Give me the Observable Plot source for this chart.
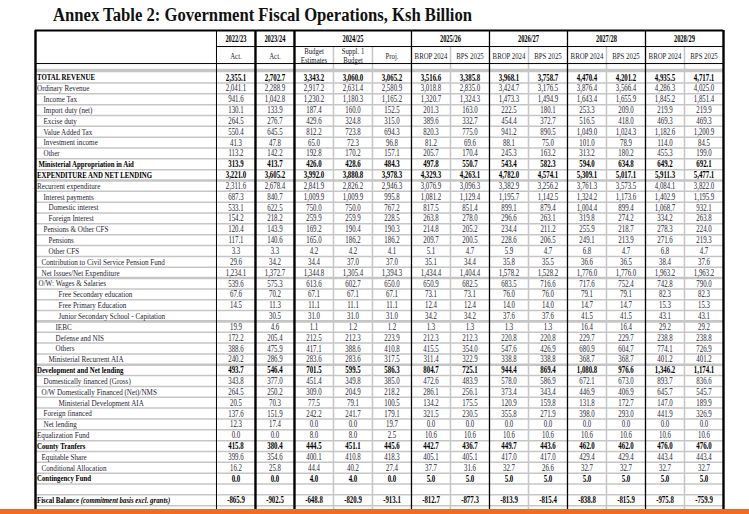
<!DOCTYPE html>
<html>
<head>
<meta charset="utf-8">
<script src="https://cdn.jsdelivr.net/npm/d3@7"></script>
<script src="https://cdn.jsdelivr.net/npm/@observablehq/plot@0.6"></script>
<style>
  html, body { margin: 0; padding: 0; background: #fff; }
  #page { position: relative; width: 749px; height: 514px; overflow: hidden; background: #fff; }
  #title { position: absolute; left: 53px; top: 6px; font-family: "Liberation Serif", "Times New Roman", serif;
           font-weight: bold; font-size: 18.5px; line-height: 18px; white-space: nowrap; color: #111;
           transform: scaleX(0.9); transform-origin: 0 0; }
  #chart { position: absolute; left: 0; top: 29px; }
  #band { position: absolute; left: 0; top: 509px; width: 749px; height: 5px; background: #f26b21; }
</style>
</head>
<body>
<div id="page">
  <div id="title">Annex Table 2: Government Fiscal Operations, Ksh Billion</div>
  <div id="chart"></div>
  <div id="band"></div>
</div>
<script>
// ---------- DATA ----------
const years = ["2022/23", "2023/24", "2024/25", "2025/26", "2026/27", "2027/28", "2028/29"];
const yearStart = [0, 1, 2, 5, 7, 9, 11];
const yearEnd   = [1, 2, 5, 7, 9, 11, 13];
const subHeaders = ["Act.", "Act.", "Budget\nEstimates", "Suppl. 1\nBudget", "Proj.",
  "BROP 2024", "BPS 2025", "BROP 2024", "BPS 2025", "BROP 2024", "BPS 2025", "BROP 2024", "BPS 2025"];

const labels = [
  "TOTAL REVENUE", "Ordinary Revenue", "Income Tax", "Import duty (net)", "Excise duty", "Value Added Tax",
  "Investment income", "Other", "Ministerial Appropriation in Aid", "EXPENDITURE AND NET LENDING",
  "Recurrent expenditure", "Interest payments", "Domestic interest", "Foreign Interest", "Pensions & Other CFS",
  "Pensions", "Other CFS", "Contribution to Civil Service Pension Fund", "Net Issues/Net Expenditure",
  "O/W: Wages & Salaries", "Free Secondary education", "Free Primary Education",
  "Junior Secondary School - Capitation", "IEBC", "Defense and NIS", "Others", "Ministerial Recurrent AIA",
  "Development and Net lending", "Domestically financed (Gross)", "O/W Domestically Financed (Net)/NMS",
  "Ministerial Development AIA", "Foreign financed", "Net lending", "Equalization Fund", "County Tranfers",
  "Equitable Share", "Conditional Allocation", "Contingency Fund", "",
  "Fiscal Balance (commitment basis excl. grants)", ""
];
// hierarchy level of each row label
const levels = [0,0,3,3,3,3,3,3,1,0, 0,3,4,4,3,4,4,2,2,1, 6,6,6,5,5,5,4,0,3,2, 6,3,3,0,0,2,2,0,0,0, 0];
// rows that are totals
const totalRows = [0, 8, 9, 27, 34, 37, 39];

const act2223  = [2355.1,2041.1,941.6,130.1,264.5,550.4,41.3,113.2,313.9,3221.0,2311.6,687.3,533.1,154.2,120.4,117.1,3.3,29.6,1234.1,539.6,67.6,14.5,null,19.9,172.2,388.6,240.2,493.7,343.8,264.5,20.5,137.6,12.3,0.0,415.8,399.6,16.2,0.0,null,-865.9,null];
const act2324  = [2702.7,2288.9,1042.8,133.9,276.7,645.5,47.8,142.2,413.7,3605.2,2678.4,840.7,622.5,218.2,143.9,140.6,3.3,34.2,1372.7,575.3,70.2,11.3,30.5,4.6,205.4,475.9,286.9,546.4,377.0,250.2,70.3,151.9,17.4,0.0,380.4,354.6,25.8,0.0,null,-902.5,null];
const bud2425  = [3343.2,2917.2,1230.2,187.4,429.6,812.2,65.0,192.8,426.0,3992.0,2841.9,1009.9,750.0,259.9,169.2,165.0,4.2,34.4,1344.8,613.6,67.1,11.1,31.0,1.1,212.5,417.1,283.6,701.5,451.4,309.0,77.5,242.2,0.0,8.0,444.5,400.1,44.4,4.0,null,-648.8,null];
const sup2425  = [3060.0,2631.4,1180.3,160.0,324.8,723.8,72.3,170.2,428.6,3880.8,2826.2,1009.9,750.0,259.9,190.4,186.2,4.2,37.0,1305.4,602.7,67.1,11.1,31.0,1.2,212.3,388.6,283.6,599.5,349.8,204.9,79.1,241.7,0.0,8.0,451.1,410.8,40.2,4.0,null,-820.9,null];
const proj2425 = [3065.2,2580.9,1165.2,152.5,315.0,694.3,96.8,157.1,484.3,3978.3,2946.3,995.8,767.2,228.5,190.3,186.2,4.1,37.0,1394.3,650.0,67.1,11.1,31.0,1.2,223.9,410.8,317.5,586.3,385.0,218.2,100.5,179.1,19.7,2.5,445.6,418.3,27.4,0.0,null,-913.1,null];
const brop2526 = [3516.6,3018.8,1320.7,201.3,389.6,820.3,81.2,205.7,497.8,4329.3,3076.9,1081.2,817.5,263.8,214.8,209.7,5.1,35.1,1434.4,650.9,73.1,12.4,34.2,1.3,212.3,415.5,311.4,804.7,472.6,286.1,134.2,321.5,0.0,10.6,442.7,405.1,37.7,5.0,null,-812.7,null];
const bps2526  = [3385.8,2835.0,1324.3,163.0,332.7,775.0,69.6,170.4,550.7,4263.1,3096.3,1129.4,851.4,278.0,205.2,200.5,4.7,34.4,1404.4,682.5,73.1,12.4,34.2,1.3,212.3,354.0,322.9,725.1,483.9,256.1,175.5,230.5,0.0,10.6,436.7,405.1,31.6,5.0,null,-877.3,null];
const brop2627 = [3968.1,3424.7,1473.3,222.5,454.4,941.2,88.1,245.3,543.4,4782.0,3382.9,1195.7,899.1,296.6,234.4,228.6,5.9,35.8,1578.2,683.5,76.0,14.0,37.6,1.3,220.8,547.6,338.8,944.4,578.0,373.4,120.9,355.8,0.0,10.6,449.7,417.0,32.7,5.0,null,-813.9,null];
const bps2627  = [3758.7,3176.5,1494.9,180.1,372.7,890.5,75.0,163.2,582.3,4574.1,3256.2,1142.5,879.4,263.1,211.2,206.5,4.7,35.5,1528.2,716.6,76.0,14.0,37.6,1.3,220.8,426.9,338.8,869.4,586.9,343.4,159.8,271.9,0.0,10.6,443.6,417.0,26.6,5.0,null,-815.4,null];
const brop2728 = [4470.4,3876.4,1643.4,253.3,516.5,1049.0,101.0,313.2,594.0,5309.1,3761.3,1324.2,1004.4,319.8,255.9,249.1,6.8,36.6,1776.0,717.6,79.1,14.7,41.5,16.4,229.7,680.9,368.7,1080.8,672.1,446.9,131.8,398.0,0.0,10.6,462.0,429.4,32.7,5.0,null,-838.8,null];
const bps2728  = [4201.2,3566.4,1655.9,209.0,418.0,1024.3,78.9,180.2,634.8,5017.1,3573.5,1173.6,899.4,274.2,218.7,213.9,4.7,36.5,1776.0,752.4,79.1,14.7,41.5,16.4,229.7,604.7,368.7,976.6,673.0,406.9,172.7,293.0,0.0,10.6,462.0,429.4,32.7,5.0,null,-815.9,null];
const brop2829 = [4935.5,4286.3,1845.2,219.9,469.3,1182.6,114.0,455.3,649.2,5911.3,4084.1,1402.9,1068.7,334.2,278.3,271.6,6.8,38.4,1963.2,742.8,82.3,15.3,43.1,29.2,238.8,774.1,401.2,1346.2,893.7,645.7,147.0,441.9,0.0,10.6,476.0,443.4,32.7,5.0,null,-975.8,null];
const bps2829  = [4717.1,4025.0,1851.4,219.9,469.3,1200.9,84.5,199.0,692.1,5477.1,3822.0,1195.9,932.1,263.8,224.0,219.3,4.7,37.6,1963.2,790.0,82.3,15.3,43.1,29.2,238.8,726.9,401.2,1174.1,836.6,545.7,189.9,326.9,0.0,10.6,476.0,443.4,32.7,5.0,null,-759.9,null];

const columns = [act2223, act2324, bud2425, sup2425, proj2425, brop2526, bps2526, brop2627, bps2627, brop2728, bps2728, brop2829, bps2829];

// ---------- LAYOUT ----------
const NCOLS = columns.length;
const NROWS = labels.length;
const LABEL_W = 4.64;       // label column width, in column units
const YTOP = -3.84, YSUB = -2.36, YBLANK = -0.79;   // header band edges, in row units
const indentPx = [1.5, 3, 6, 8, 13, 20, 23];
const FONT = '"Liberation Serif", "Times New Roman", serif';
const GRAY = "#c6c6c6";
const thickSep = [10, 19, 23, 27];

const fmt = d3.formatLocale({decimal: ".", thousands: ",", grouping: [3], currency: ["", ""], minus: "-"}).format(",.1f");

const cells = columns.flatMap((arr, c) => arr.map((v, r) => ({c, r, v}))).filter(d => d.v != null);
const isTotal = r => totalRows.includes(r);
const rowsData = labels.map((t, r) => ({t, r, lvl: levels[r]})).filter(d => d.t);

const labelMarks = [];
for (let lvl = 0; lvl < indentPx.length; lvl++) {
  for (const bold of [false, true]) {
    const sub = rowsData.filter(d => d.lvl === lvl && isTotal(d.r) === bold);
    if (!sub.length) continue;
    labelMarks.push(Plot.text(sub, {
      x: () => -LABEL_W, y: d => d.r + 0.5, text: "t", textAnchor: "start", dx: indentPx[lvl],
      fontSize: 9, fontWeight: bold ? "bold" : "normal", fill: bold ? "#000" : "#252532"
    }));
  }
}

const hdrYears = years.map((t, i) => ({t, x: (yearStart[i] + yearEnd[i]) / 2}));
const hdrSubs = subHeaders.map((t, i) => ({t, x: i + 0.5}));

const chart = Plot.plot({
  width: 749,
  height: 485,
  x: {type: "linear", domain: [-LABEL_W, NCOLS], range: [35, 723], axis: null},
  y: {type: "linear", domain: [YTOP, NROWS], range: [1, 487], axis: null},
  style: {fontFamily: FONT, background: "transparent", overflow: "visible"},
  marks: [
    // gray grid
    Plot.ruleY(d3.range(1, NROWS + 1).filter(y => !thickSep.includes(y)), {x1: -LABEL_W, x2: NCOLS, stroke: GRAY, strokeWidth: 1.5}),
    Plot.ruleY(thickSep, {x1: -LABEL_W, x2: NCOLS, stroke: GRAY, strokeWidth: 2.6}),
    Plot.ruleY([0], {x1: -LABEL_W, x2: NCOLS, stroke: GRAY, strokeWidth: 3.5, dy: -1.5}),
    Plot.ruleX([3, 4, 6, 8, 10, 12], {y1: YSUB, y2: NROWS, stroke: GRAY, strokeWidth: 1.5}),
    // black frame lines
    Plot.ruleY([YTOP], {x1: -LABEL_W, x2: NCOLS, stroke: "#000", strokeWidth: 2.2}),
    Plot.ruleY([YSUB], {x1: 0, x2: NCOLS, stroke: "#000", strokeWidth: 1}),
    Plot.ruleY([YBLANK], {x1: -LABEL_W, x2: NCOLS, stroke: "#000", strokeWidth: 1}),
    Plot.ruleX([-LABEL_W, 1, 2, NCOLS], {y1: YTOP, y2: NROWS, stroke: "#000", strokeWidth: 2.4}),
    Plot.ruleX([0], {y1: YTOP, y2: NROWS, stroke: "#000", strokeWidth: 1}),
    Plot.ruleX([5, 7, 9, 11], {y1: YTOP, y2: NROWS, stroke: "#000", strokeWidth: 1.3}),
    // headers
    Plot.text(hdrYears, {x: "x", y: () => (YTOP + YSUB) / 2, text: "t", fontSize: 9.5, fontWeight: "bold", fill: "#000"}),
    Plot.text(hdrSubs, {x: "x", y: () => (YSUB + YBLANK) / 2, text: "t", fontSize: 8.5, lineHeight: 1.12, dy: 0.5, fill: "#1a1a28"}),
    // values
    Plot.text(cells.filter(d => !isTotal(d.r)), {x: d => d.c + 0.5, y: d => d.r + 0.5, text: d => fmt(d.v), fontSize: 9.5, fill: "#262633"}),
    Plot.text(cells.filter(d => isTotal(d.r)), {x: d => d.c + 0.5, y: d => d.r + 0.5, text: d => fmt(d.v), fontSize: 9.5, fontWeight: "bold", fill: "#000"}),
    ...labelMarks
  ]
});

// condensed lettering, like the source PDF: horizontal squeeze chosen by the kind of text
const labelSet = new Set(labels.filter(Boolean));
const boldLabelSet = new Set(totalRows.map(r => labels[r]));
const yearSet = new Set(years);
const subSet = new Set(subHeaders.map(s => s.replace("\n", "")));
chart.querySelectorAll("text").forEach(t => {
  const s = t.textContent;
  const k = boldLabelSet.has(s) ? 0.76
    : labelSet.has(s) ? 0.79
    : yearSet.has(s) ? 0.68
    : subSet.has(s) ? 0.8
    : 0.72;
  let tr = t.getAttribute("transform");
  if (!tr) {
    const x = +t.getAttribute("x") || 0, y = +t.getAttribute("y") || 0;
    t.removeAttribute("x"); t.removeAttribute("y");
    tr = `translate(${x},${y})`;
  }
  t.setAttribute("transform", `${tr} scale(${k},1)`);
});

// italic part of the fiscal balance label
chart.querySelectorAll("text").forEach(t => {
  const s = t.textContent;
  const i = s.indexOf("(");
  if (s.startsWith("Fiscal Balance") && i > 0) {
    const sel = d3.select(t);
    sel.text(null);
    sel.append("tspan").text(s.slice(0, i));
    sel.append("tspan").attr("font-style", "italic").text(s.slice(i));
  }
});

document.getElementById("chart").appendChild(chart);
</script>
</body>
</html>
